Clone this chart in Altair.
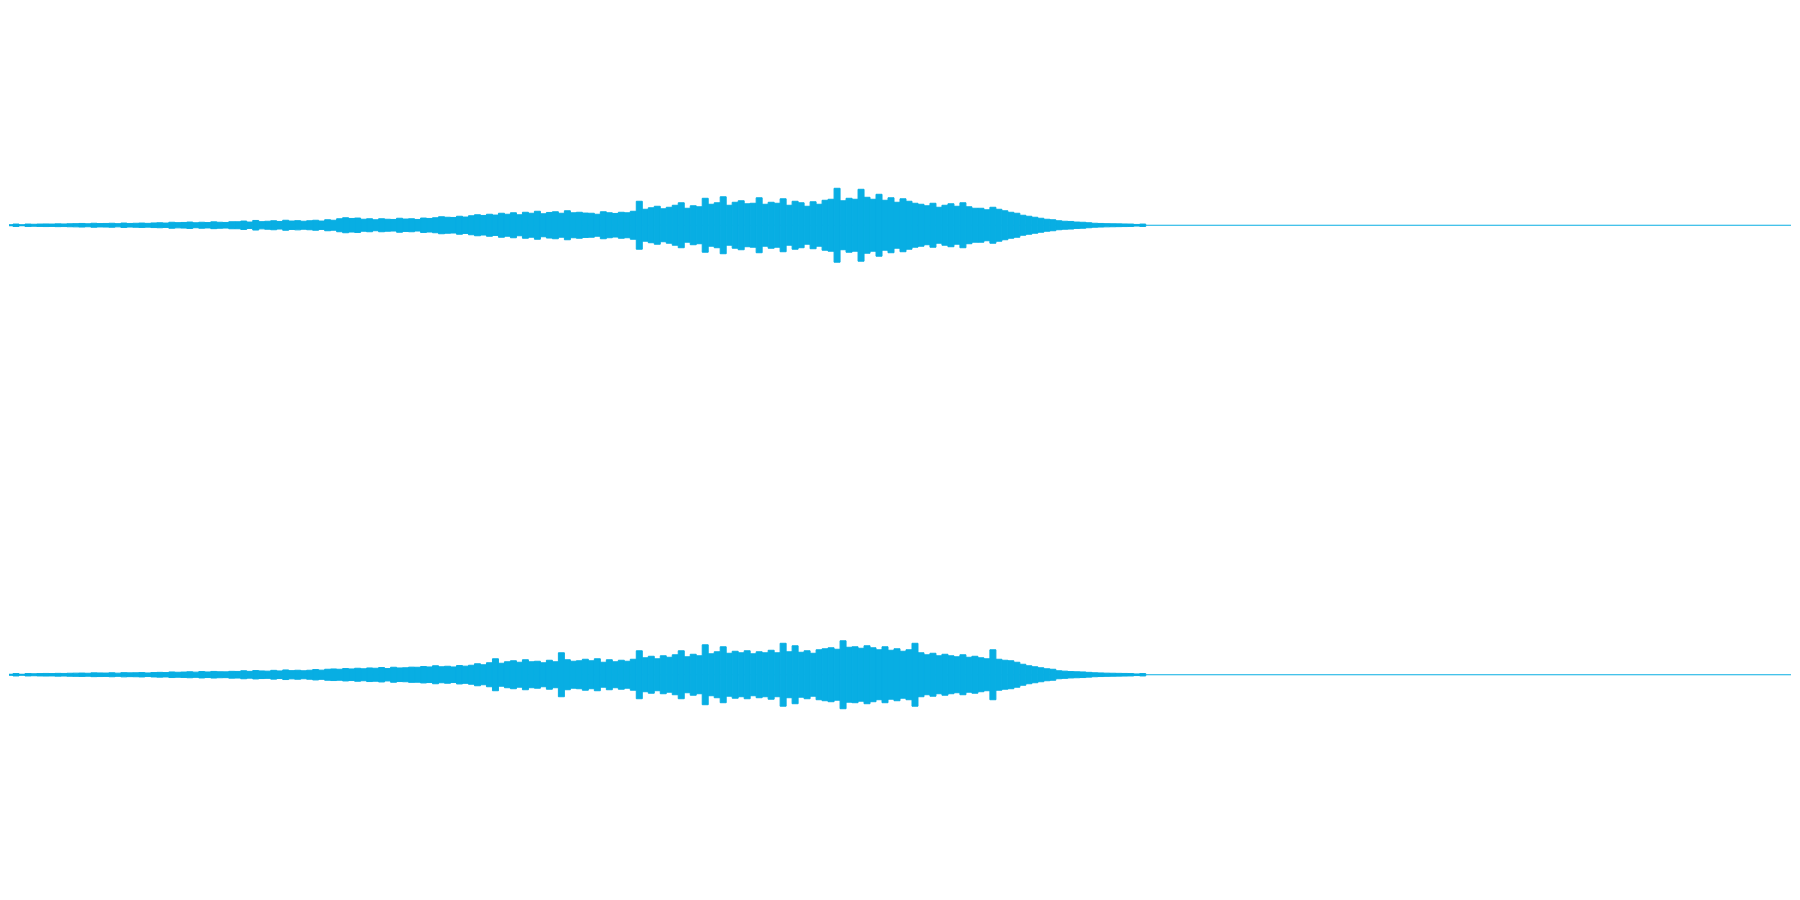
import altair as alt
import pandas as pd

# Peak amplitude per time bin (300 bins span the whole clip; only the first
# 191 carry sound, the rest is silence). Units: 1/225 of full scale.
left_amp = [
    0.5, 0.5,
    1.2, 0.5, 1.2, 1.0, 1.2,
    1.3, 1.2, 1.4, 1.3, 1.5,
    1.6, 1.8, 1.5, 2.0, 1.7, 1.8, 2.0, 1.6, 2.2, 1.8, 2.0, 2.2, 1.9, 2.3,
    2.5, 2.2, 3.0, 2.6, 2.8, 3.2, 2.5, 3.0, 2.7, 3.4, 3.0, 2.8, 3.5,
    3.5, 4.2, 3.2, 4.8, 3.6, 4.0, 4.5, 3.8, 5.0, 4.2, 4.6, 4.0,
    4.5, 5.0, 4.2, 5.5, 5.0,
    6.5, 7.5, 6.8, 7.2, 6.0, 6.5,
    5.5, 6.5, 6.0, 5.8, 7.0, 6.2, 6.5, 5.8, 7.2, 6.8,
    7.5, 8.5, 8.0, 7.8, 9.0, 8.2,
    9.5, 10.5, 9.8, 11.0, 10.2, 12.0,
    11.0, 12.5, 10.5, 13.0, 12.0, 14.0, 11.5, 12.8, 13.5, 12.0, 14.5, 12.5, 13.0, 12.2,
    12.0, 11.0, 13.5, 12.5, 11.8, 13.0, 12.5, 14.0,
    24.0, 16.0, 17.5, 19.0, 16.5, 18.0, 20.0, 22.5, 17.0, 19.5, 18.5,
    27.0, 21.0, 22.5, 28.5, 20.0, 23.0, 24.5, 21.5, 22.0,
    27.5, 21.0, 23.0, 22.0, 26.5, 20.0, 24.0, 22.5, 19.0, 23.5, 21.0,
    25.0, 26.0, 37.0, 24.5, 27.0, 26.0, 36.0, 28.0,
    26.0, 31.0, 25.0, 27.5, 23.0, 26.5, 24.0, 22.0,
    21.0, 19.5, 22.0, 18.0, 20.0,
    21.5, 19.0, 22.5, 18.5, 17.0,
    17.0, 15.5, 18.0, 16.0, 14.5,
    13.0, 12.0,
    10.0, 9.0, 8.0,
    7.0, 6.0, 5.5,
    4.5, 4.0, 3.8, 3.2, 3.0, 2.5,
    2.0, 1.8, 1.6, 1.5, 1.4, 1.3,
    1.2, 0.8, 1.2,
]

right_amp = [
    0.5, 0.5,
    1.2, 0.5, 1.2, 1.0, 1.2,
    1.3, 1.2, 1.4, 1.3, 1.5,
    1.6, 1.7, 1.5, 1.9, 1.8, 1.7, 2.0, 1.6, 2.1, 1.9, 2.0, 2.2, 1.8, 2.2,
    2.4, 2.2, 2.8, 2.5, 2.7, 3.0, 2.6, 3.2, 2.8, 3.3, 3.0, 2.9, 3.4,
    3.3, 4.0, 3.4, 4.2, 3.8, 3.6, 4.4, 3.8, 4.8, 4.1, 4.5, 4.0,
    4.5, 5.2, 4.6, 5.5, 5.8,
    5.5, 6.2, 5.8, 6.5, 6.0, 6.8,
    6.5, 7.2, 6.2, 7.5, 6.8, 7.0, 7.6,
    7.5, 8.2, 7.8, 9.0, 8.0, 8.5, 7.8, 9.2, 8.6,
    9.5, 11.0, 10.0,
    12.0, 16.0, 11.5, 13.0, 14.0, 12.5, 15.0, 13.0,
    13.5, 12.0, 14.5, 13.0, 22.0, 15.0, 13.5, 14.0, 15.5,
    14.0, 16.0, 12.5, 15.0, 13.0, 14.5, 13.5, 15.5,
    24.0, 17.0, 18.5, 16.0, 19.0, 17.5, 20.0, 24.0, 18.0, 20.5, 19.0,
    30.0, 21.0, 23.0, 28.0, 21.5, 23.5, 22.0, 24.0, 21.0,
    23.0, 22.0, 24.5, 22.0, 31.5, 23.0, 29.0, 22.5, 24.0, 21.5, 25.0,
    26.0, 27.0, 25.5, 34.0, 27.5, 28.0, 26.5, 29.0,
    27.0, 25.0, 28.0, 24.5, 26.0, 23.5, 25.0, 31.5,
    22.0, 20.0, 21.5, 19.0, 20.5,
    19.0, 18.0, 20.0, 17.5, 18.5,
    17.0, 16.0, 25.0, 15.5, 14.5,
    14.0, 12.5,
    10.5, 9.0, 8.0,
    7.0, 6.0, 5.5,
    4.0, 3.6, 3.2, 3.0, 2.8, 2.4,
    2.0, 1.8, 1.6, 1.5, 1.4, 1.3,
    1.2, 0.8, 1.2,
]

channels = ["L", "R"]
TOTAL_BINS = 300
FULL_SCALE = 225.0
COLOR = "#08aee3"

# layout: two stacked channel lanes inside the 8px page margin
W, H = 1784, 884
center = {"L": 1.0, "R": -1.0}
ylim = (450.0 - 8.0) / FULL_SCALE
xlo = 8.0 / 6.0
xhi = TOTAL_BINS - 8.0 / 6.0

rows = []
for ch, amps in zip(channels, [left_amp, right_amp]):
    for i, a in enumerate(amps):
        rows.append({
            "channel": ch,
            "t0": i,
            "t1": i + 1,
            "hi": center[ch] + a / FULL_SCALE,
            "lo": center[ch] - a / FULL_SCALE,
        })
df = pd.DataFrame(rows)
lanes = pd.DataFrame({"channel": channels, "c": [center[c] for c in channels]})

xs = alt.Scale(domain=[xlo, xhi], nice=False, zero=False)
ys = alt.Scale(domain=[-ylim, ylim], nice=False, zero=False)

bars = alt.Chart(df).mark_bar(color=COLOR, clip=True, stroke=COLOR, strokeWidth=1).encode(
    x=alt.X("t0:Q", scale=xs, axis=None),
    x2="t1:Q",
    y=alt.Y("hi:Q", scale=ys, axis=None),
    y2="lo:Q",
)

baseline = alt.Chart(lanes).mark_rule(color=COLOR, strokeWidth=1.2).encode(
    x=alt.value(0),
    x2=alt.value(W),
    y=alt.Y("c:Q", scale=ys, axis=None),
)

chart = (
    alt.layer(baseline, bars)
    .properties(width=W, height=H, padding=0)
    .configure_view(strokeWidth=0)
)

chart.save("out.html", embed_options={"renderer": "svg", "actions": False})
